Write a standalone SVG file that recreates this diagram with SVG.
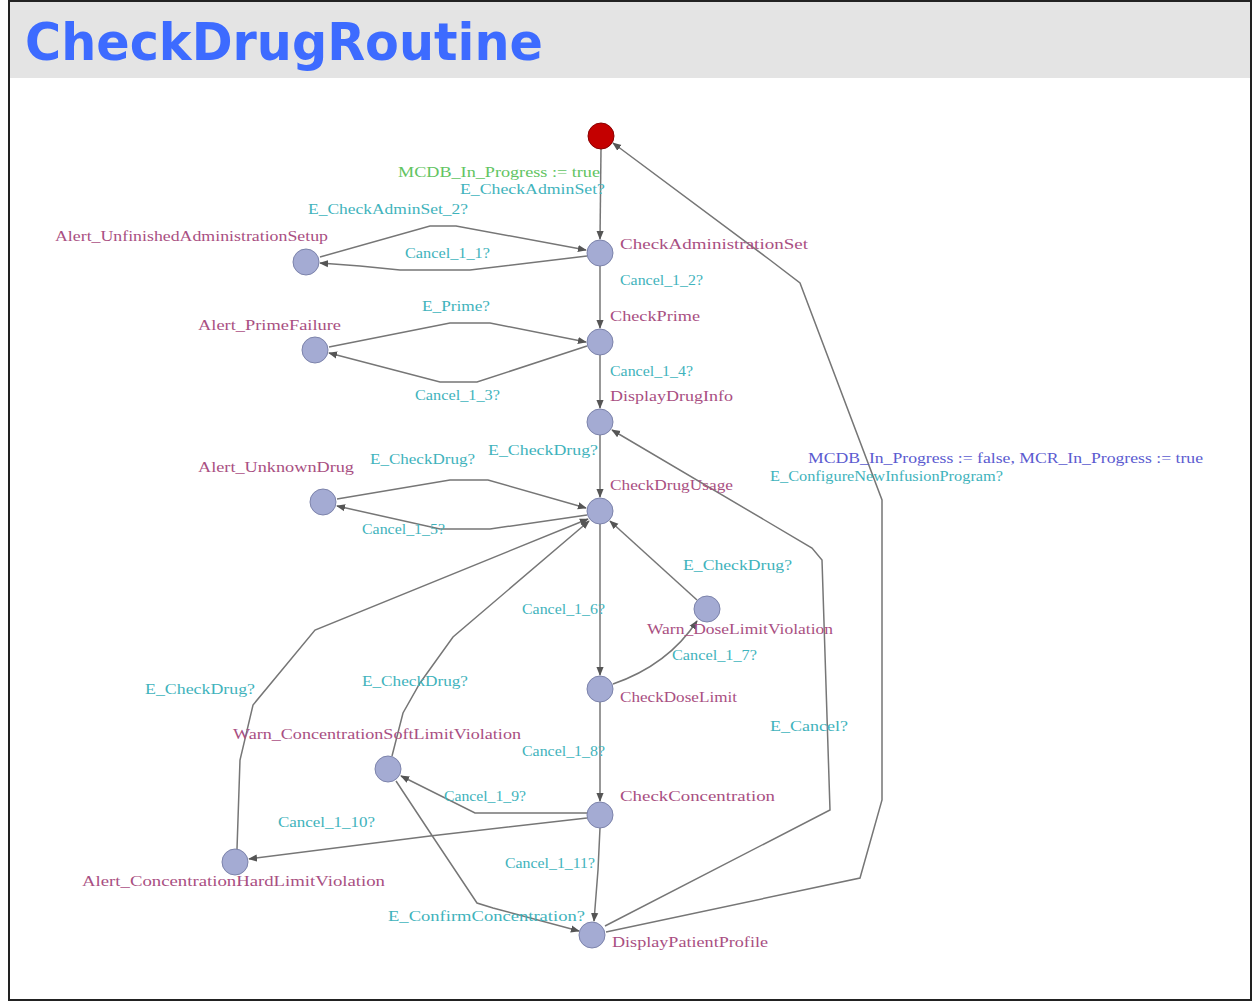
<svg xmlns="http://www.w3.org/2000/svg" width="1257" height="1008" viewBox="0 0 1257 1008">
  <defs>
    <marker id="arr" viewBox="0 0 10 10" refX="9" refY="5" markerWidth="9" markerHeight="9" markerUnits="userSpaceOnUse" orient="auto">
      <path d="M0,1 L10,5 L0,9 z" fill="#555"/>
    </marker>
    <style>
      .edge { fill: none; stroke: #767676; stroke-width: 1.5; marker-end: url(#arr); }
      .loc { fill: #a4abd3; stroke: #7c83ab; stroke-width: 1; }
      .init { fill: #c40000; stroke: #8a0000; stroke-width: 1; }
      text { font-family: "Liberation Serif", "DejaVu Serif", serif; font-size: 14px; }
      .name { fill: #a94f82; }
      .sync { fill: #3fb3bc; }
      .upd-g { fill: #62c462; }
      .upd-b { fill: #5b5bd0; }
      .title { font-family: "DejaVu Sans", "Liberation Sans", sans-serif; font-size: 52px; font-weight: bold; fill: #3d6bff; }
    </style>
  </defs>

  <!-- frame and header -->
  <rect x="0" y="0" width="1257" height="1008" fill="#ffffff"/>
  <rect x="10" y="2" width="1240" height="76" fill="#e4e4e4"/>
  <rect x="9" y="1" width="1242" height="999" fill="none" stroke="#222" stroke-width="2"/>
  <text class="title" x="25" y="60" textLength="518" lengthAdjust="spacingAndGlyphs">CheckDrugRoutine</text>

  <!-- transitions -->
  <g id="edges">
    <path class="edge" d="M601,149 L600,239"/>
    <path class="edge" d="M320,257 L430,226 L456,226 L586,250"/>
    <path class="edge" d="M587,256 L470,270 L400,270 L360,266 L320,263"/>
    <path class="edge" d="M600,266 L600,328"/>
    <path class="edge" d="M329,347 L450,323 L490,323 L586,342"/>
    <path class="edge" d="M587,346 L477,382 L440,382 L329,353"/>
    <path class="edge" d="M600,355 L600,408"/>
    <path class="edge" d="M600,435 L600,497"/>
    <path class="edge" d="M337,499 L450,480 L488,480 L586,508"/>
    <path class="edge" d="M587,515 L490,529 L440,529 L337,506"/>
    <path class="edge" d="M600,524 L600,675"/>
    <path class="edge" d="M697,600 L610,521"/>
    <path class="edge" d="M613,684 Q668,665 697,621"/>
    <path class="edge" d="M600,702 L600,801"/>
    <path class="edge" d="M587,813 L475,813 L401,776"/>
    <path class="edge" d="M587,818 L430,836 L249,859"/>
    <path class="edge" d="M237,849 L240,760 L253,705 L315,630 L588,519"/>
    <path class="edge" d="M392,756 L403,713 L420,683 L453,637 L589,521"/>
    <path class="edge" d="M396,781 L433,837 L477,903 L493,908 L579,931"/>
    <path class="edge" d="M600,828 L598,870 L594,921"/>
    <path class="edge" d="M605,926 L830,810 L822,560 L812,548 L612,430"/>
    <path class="edge" d="M606,932 L860,878 L882,800 L882,500 L800,283 L770,260 L613,143"/>
  </g>

  <!-- locations -->
  <g id="Init"><circle class="init" cx="601" cy="136" r="13"/></g>
  <g id="CheckAdministrationSet"><circle class="loc" cx="600" cy="253" r="13"/>
    <text class="name" x="620" y="249" textLength="188" lengthAdjust="spacingAndGlyphs">CheckAdministrationSet</text></g>
  <g id="Alert_UnfinishedAdministrationSetup"><circle class="loc" cx="306" cy="262" r="13"/>
    <text class="name" x="55" y="241" textLength="273" lengthAdjust="spacingAndGlyphs">Alert_UnfinishedAdministrationSetup</text></g>
  <g id="CheckPrime"><circle class="loc" cx="600" cy="342" r="13"/>
    <text class="name" x="610" y="321" textLength="90" lengthAdjust="spacingAndGlyphs">CheckPrime</text></g>
  <g id="Alert_PrimeFailure"><circle class="loc" cx="315" cy="350" r="13"/>
    <text class="name" x="198" y="330" textLength="143" lengthAdjust="spacingAndGlyphs">Alert_PrimeFailure</text></g>
  <g id="DisplayDrugInfo"><circle class="loc" cx="600" cy="422" r="13"/>
    <text class="name" x="610" y="401" textLength="123" lengthAdjust="spacingAndGlyphs">DisplayDrugInfo</text></g>
  <g id="CheckDrugUsage"><circle class="loc" cx="600" cy="511" r="13"/>
    <text class="name" x="610" y="490" textLength="123" lengthAdjust="spacingAndGlyphs">CheckDrugUsage</text></g>
  <g id="Alert_UnknownDrug"><circle class="loc" cx="323" cy="502" r="13"/>
    <text class="name" x="198" y="472" textLength="156" lengthAdjust="spacingAndGlyphs">Alert_UnknownDrug</text></g>
  <g id="Warn_DoseLimitViolation"><circle class="loc" cx="707" cy="609" r="13"/>
    <text class="name" x="647" y="634" textLength="186" lengthAdjust="spacingAndGlyphs">Warn_DoseLimitViolation</text></g>
  <g id="CheckDoseLimit"><circle class="loc" cx="600" cy="689" r="13"/>
    <text class="name" x="620" y="702" textLength="117" lengthAdjust="spacingAndGlyphs">CheckDoseLimit</text></g>
  <g id="Warn_ConcentrationSoftLimitViolation"><circle class="loc" cx="388" cy="769" r="13"/>
    <text class="name" x="233" y="739" textLength="288" lengthAdjust="spacingAndGlyphs">Warn_ConcentrationSoftLimitViolation</text></g>
  <g id="CheckConcentration"><circle class="loc" cx="600" cy="815" r="13"/>
    <text class="name" x="620" y="801" textLength="155" lengthAdjust="spacingAndGlyphs">CheckConcentration</text></g>
  <g id="Alert_ConcentrationHardLimitViolation"><circle class="loc" cx="235" cy="862" r="13"/>
    <text class="name" x="82" y="886" textLength="303" lengthAdjust="spacingAndGlyphs">Alert_ConcentrationHardLimitViolation</text></g>
  <g id="DisplayPatientProfile"><circle class="loc" cx="592" cy="935" r="13"/>
    <text class="name" x="612" y="947" textLength="156" lengthAdjust="spacingAndGlyphs">DisplayPatientProfile</text></g>

  <!-- transition labels -->
  <g id="labels">
    <text class="upd-g" x="398" y="177" textLength="202" lengthAdjust="spacingAndGlyphs">MCDB_In_Progress := true</text>
    <text class="sync" x="460" y="194" textLength="145" lengthAdjust="spacingAndGlyphs">E_CheckAdminSet?</text>
    <text class="sync" x="308" y="214" textLength="160" lengthAdjust="spacingAndGlyphs">E_CheckAdminSet_2?</text>
    <text class="sync" x="405" y="258" textLength="85" lengthAdjust="spacingAndGlyphs">Cancel_1_1?</text>
    <text class="sync" x="620" y="285" textLength="83" lengthAdjust="spacingAndGlyphs">Cancel_1_2?</text>
    <text class="sync" x="422" y="311" textLength="68" lengthAdjust="spacingAndGlyphs">E_Prime?</text>
    <text class="sync" x="415" y="400" textLength="85" lengthAdjust="spacingAndGlyphs">Cancel_1_3?</text>
    <text class="sync" x="610" y="376" textLength="83" lengthAdjust="spacingAndGlyphs">Cancel_1_4?</text>
    <text class="sync" x="488" y="455" textLength="110" lengthAdjust="spacingAndGlyphs">E_CheckDrug?</text>
    <text class="sync" x="370" y="464" textLength="105" lengthAdjust="spacingAndGlyphs">E_CheckDrug?</text>
    <text class="sync" x="362" y="534" textLength="83" lengthAdjust="spacingAndGlyphs">Cancel_1_5?</text>
    <text class="upd-b" x="808" y="463" textLength="395" lengthAdjust="spacingAndGlyphs">MCDB_In_Progress := false, MCR_In_Progress := true</text>
    <text class="sync" x="770" y="481" textLength="233" lengthAdjust="spacingAndGlyphs">E_ConfigureNewInfusionProgram?</text>
    <text class="sync" x="683" y="570" textLength="109" lengthAdjust="spacingAndGlyphs">E_CheckDrug?</text>
    <text class="sync" x="522" y="614" textLength="83" lengthAdjust="spacingAndGlyphs">Cancel_1_6?</text>
    <text class="sync" x="672" y="660" textLength="85" lengthAdjust="spacingAndGlyphs">Cancel_1_7?</text>
    <text class="sync" x="145" y="694" textLength="110" lengthAdjust="spacingAndGlyphs">E_CheckDrug?</text>
    <text class="sync" x="362" y="686" textLength="106" lengthAdjust="spacingAndGlyphs">E_CheckDrug?</text>
    <text class="sync" x="770" y="731" textLength="78" lengthAdjust="spacingAndGlyphs">E_Cancel?</text>
    <text class="sync" x="522" y="756" textLength="83" lengthAdjust="spacingAndGlyphs">Cancel_1_8?</text>
    <text class="sync" x="444" y="801" textLength="82" lengthAdjust="spacingAndGlyphs">Cancel_1_9?</text>
    <text class="sync" x="278" y="827" textLength="97" lengthAdjust="spacingAndGlyphs">Cancel_1_10?</text>
    <text class="sync" x="505" y="868" textLength="90" lengthAdjust="spacingAndGlyphs">Cancel_1_11?</text>
    <text class="sync" x="388" y="921" textLength="197" lengthAdjust="spacingAndGlyphs">E_ConfirmConcentration?</text>
  </g>
</svg>
